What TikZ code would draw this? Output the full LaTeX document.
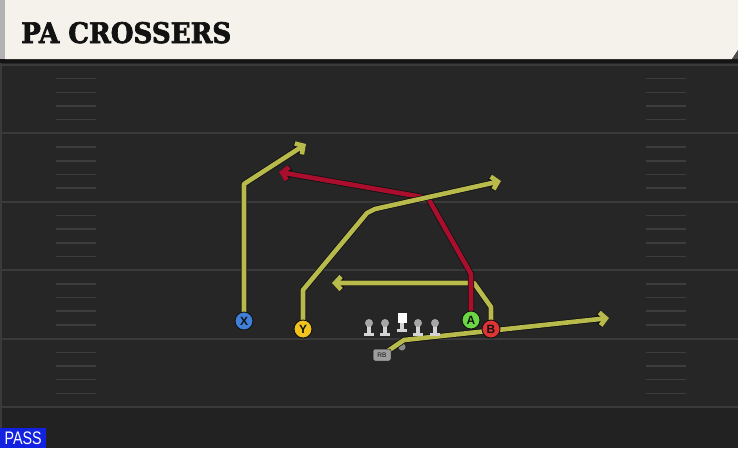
\documentclass[tikz,border=0pt]{standalone}
\usepackage{fontspec}
\usepackage{graphicx}
\usetikzlibrary{arrows.meta}
\setmainfont{DejaVu Serif}
\newfontfamily\labelfont{Liberation Sans}
\newfontfamily\titlefont{DejaVu Serif}[BoldFeatures={FakeBold=2.5}]
\definecolor{fieldbg}{HTML}{262626}
\definecolor{fieldbot}{HTML}{222222}
\definecolor{yardline}{HTML}{3A3A3A}
\definecolor{hashc}{HTML}{3D3D3D}
\definecolor{headerbg}{HTML}{F5F2EC}
\definecolor{headerstrip}{HTML}{B2B2B2}
\definecolor{headerband}{HTML}{141414}
\definecolor{routey}{HTML}{B8BA4C}
\definecolor{router}{HTML}{A90F2D}
\definecolor{outl}{HTML}{121212}
\definecolor{pblue}{HTML}{3F7FD8}
\definecolor{pyellow}{HTML}{F2C31C}
\definecolor{pgreen}{HTML}{6BD644}
\definecolor{pred}{HTML}{DE3434}
\definecolor{passblue}{HTML}{1222E0}
\definecolor{linehead}{HTML}{A6A6A6}
\definecolor{linebody}{HTML}{D4D4D4}
\definecolor{rbgray}{HTML}{9E9E9E}
\definecolor{fakegray}{HTML}{8A8A8A}
\newcommand\routepath[2]{\draw[routeout] #2; \draw[routein=#1] #2;}
\begin{document}
\begin{tikzpicture}[x=1pt,y=-1pt,
  routeout/.style={draw=outl, line width=6.2pt, line join=round, -{Straight Barb[length=6pt,width=13pt]}},
  routein/.style={draw=#1, line width=4.6pt, line join=round, -{Straight Barb[length=6pt,width=13pt]}},
  player/.style={circle, draw=outl, line width=0.9pt, minimum size=18pt, inner sep=0pt,
    font=\labelfont\bfseries\fontsize{12}{12}\selectfont, text=outl},
  yardstyle/.style={draw=yardline, line width=2pt},
  hashstyle/.style={draw=hashc, line width=1.5pt},
  lineman/.pic={
    \fill[linebody] (-2.4,2) rectangle (2.4,10);
    \fill[linebody] (-5,9.5) rectangle (5,13);
    \fill[linehead] (0,0) circle (4);
  },
  centerman/.pic={
    \fill[linebody] (-2.2,0) rectangle (2.2,6);
    \fill[linebody] (-5,5.5) rectangle (5,9);
    \fill[white] (-4.5,-10) rectangle (4.5,0);
  }
]
\useasboundingbox (0,0) rectangle (738,448);
% field
\fill[fieldbg] (0,0) rectangle (738,448);
\fill[fieldbot] (0,408) rectangle (738,448);
\fill[yardline] (0,63) rectangle (2,448);
\foreach \i in {0,...,5} {
  \draw[yardstyle] (0,{65+68.4*\i}) -- (738,{65+68.4*\i});
}
\foreach \i in {0,...,4} {
  \foreach \k in {1,...,4} {
    \draw[hashstyle] (56,{65+68.4*\i+13.68*\k}) -- (96,{65+68.4*\i+13.68*\k});
    \draw[hashstyle] (646,{65+68.4*\i+13.68*\k}) -- (686,{65+68.4*\i+13.68*\k});
  }
}
% header
\fill[headerband] (0,58) rectangle (738,63);
\fill[headerbg] (5,0) -- (738,0) -- (738,50) -- (732,59) -- (5,59) -- cycle;
\fill[gray!60!black] (732,59) -- (738,50) -- (738,59) -- cycle;
\fill[headerstrip] (0,0) rectangle (5,59);
\node[anchor=base west, inner sep=0pt, text=outl] (title) at (21,43)
  {\resizebox{210pt}{21pt}{\titlefont\bfseries PA CROSSERS}};
% pass tag
\node[fill=passblue, anchor=south west, minimum width=46pt, minimum height=20pt, inner sep=0pt, text=white] (pass) at (0,448)
  {\resizebox{37pt}{12.7pt}{\labelfont PASS}};
% fake handoff marker
\node[circle, fill=fakegray, minimum size=7pt, inner sep=0pt] (fake) at (402,347) {};
% player anchor coordinates
\coordinate (Xc) at (244,321);
\coordinate (Yc) at (303,329);
\coordinate (Ac) at (471,320);
\coordinate (Bc) at (491,329);
\coordinate (RBc) at (382,355);
% route coordinates
\coordinate (x1) at (244,184);
\coordinate (xe) at (306,144);
\coordinate (a1) at (471,274);
\coordinate (a2) at (428,198);
\coordinate (ae) at (279,172);
\coordinate (y1) at (303,290);
\coordinate (y2) at (367,213);
\coordinate (y3) at (375,209);
\coordinate (ye) at (501,181);
\coordinate (b1) at (491,307);
\coordinate (b2) at (474,283);
\coordinate (be) at (332,283);
\coordinate (r1) at (404,340);
\coordinate (re) at (609,318);
% routes
\routepath{routey}{(RBc) -- (r1) -- (re)}
\routepath{routey}{(Bc) -- (b1) -- (b2) -- (be)}
\routepath{router}{(Ac) -- (a1) -- (a2) -- (ae)}
\routepath{routey}{(Xc) -- (x1) -- (xe)}
\routepath{routey}{(Yc) -- (y1) -- (y2) -- (y3) -- (ye)}
% line
\pic (lt) at (369,323) {lineman};
\pic (lg) at (385,323) {lineman};
\pic (c) at (402,323) {centerman};
\pic (rg) at (418,323) {lineman};
\pic (rt) at (435,323) {lineman};
\node[fill=rbgray, draw=outl, line width=0.5pt, rounded corners=2pt, minimum width=18pt, minimum height=12pt, inner sep=0pt,
  font=\labelfont\fontsize{6.5}{6.5}\selectfont, text=outl] (RB) at (RBc) {RB};
% players
\node[player, fill=pblue] (X) at (Xc) {X};
\node[player, fill=pyellow] (Y) at (Yc) {Y};
\node[player, fill=pgreen] (A) at (Ac) {A};
\node[player, fill=pred] (B) at (Bc) {B};
\end{tikzpicture}
\end{document}
